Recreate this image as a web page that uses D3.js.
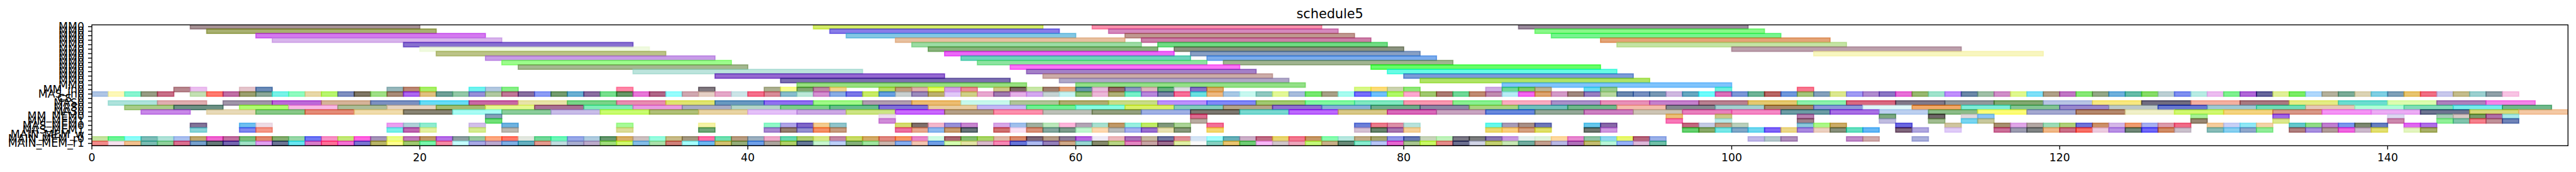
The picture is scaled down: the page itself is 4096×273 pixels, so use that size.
<!DOCTYPE html>
<html><head><meta charset="utf-8">
<script src="https://d3js.org/d3.v7.min.js"></script>
<style>html,body{margin:0;padding:0;background:#fff;overflow:hidden}svg{display:block}text{font-family:"DejaVu Sans";fill:#000}</style>
</head><body><div id="c"></div>
<script>
const chartTitle="schedule5";
const rowLabels=["MM0","MM0","MM0","MM0","MM0","MM0","MM0","MM0","MM0","MM0","MM0","MM0","MM0","MM0","MM_in0","MAS_in0","CS_0","MAS0","MAS0","MAS0","MM_MEM0","MM_MEM1","MAS_MEM0","MAS_MEM1","MAIN_MEM_w","MAIN_MEM_r0","MAIN_MEM_r1"];
const xTicks=[0,20,40,60,80,100,120,140];
const xMax=151;
// every task is [start, displayed colour]; duration is by row
const durLong=14, durMid=3, durUnit=1;
const r0=[[6,"#a69295"],[44,"#d3ec68"],[61,"#fa90ac"],[87,"#9a8a9c"]];
const r1=[[7,"#a8b070"],[45,"#887ce8"],[62,"#d488bc"],[88,"#88f888"]];
const r2=[[10,"#d478f0"],[46,"#84c8e4"],[63,"#c09890"],[89,"#78f490"]];
const r3=[[11,"#d8b4ec"],[49,"#e8c0a0"],[64,"#cc80a8"],[92,"#e4a478"]];
const r4=[[19,"#8870d0"],[50,"#9cdca4"],[65,"#70dc84"],[93,"#c4e4a4"]];
const r5=[[20,"#f0fae0"],[51,"#88b47c"],[66,"#8c9480"],[100,"#bca0ac"]];
const r6=[[21,"#bcc488"],[52,"#ec68f8"],[67,"#88a0c4"],[105,"#f8f6c0"]];
const r7=[[24,"#c89ce8"],[53,"#6cd4bc"],[68,"#7cacec"]];
const r8=[[25,"#9cfc8c"],[54,"#8ce4a0"],[69,"#a0b490"]];
const r9=[[26,"#a4b890"],[56,"#fc74f8"],[78,"#68fc68"]];
const r10=[[33,"#bce4dc"],[57,"#a480c8"],[79,"#68fce4"]];
const r11=[[38,"#9468d0"],[58,"#ccaca8"],[80,"#7c9cd8"]];
const r12=[[42,"#7c70b0"],[59,"#b0a8c8"],[81,"#b0e464"]];
const r13=[[43,"#98e080"],[60,"#94e088"],[86,"#80c4fc"]];
const r14=[[5,"#b8888f"],[6,"#ecc0f0"],[9,"#e5c5cc"],[10,"#6c8cb8"],[18,"#98b8bc"],[19,"#bc8874"],[20,"#a8f068"],[23,"#70f3f0"],[24,"#b3c8e0"],[25,"#88f088"],[32,"#ff88a8"],[37,"#80787f"],[41,"#acb090"],[42,"#f8fd90"],[43,"#80a870"],[44,"#c088a8"],[45,"#f3d58c"],[48,"#b8dc68"],[49,"#c09c80"],[50,"#e0b0b0"],[51,"#e8fc68"],[52,"#d8a0e8"],[53,"#ec8c98"],[55,"#d0c888"],[56,"#806868"],[57,"#c8e8a8"],[58,"#a08070"],[59,"#e8a880"],[60,"#6098a8"],[61,"#e8bcdc"],[62,"#986c6c"],[63,"#9098c4"],[64,"#e0b8c0"],[65,"#68b080"],[66,"#e0dce5"],[67,"#8870c8"],[68,"#dcac6c"],[77,"#d8f888"],[78,"#fcdc78"],[79,"#ccd4b0"],[80,"#90e878"],[85,"#d0ace4"],[86,"#70d898"],[87,"#80cc68"],[88,"#c0b494"],[91,"#70dcf0"],[92,"#98cc90"],[99,"#70f0dc"],[104,"#f87890"]];
const r15=[[0,"#aec5e5"],[1,"#fdf8b8"],[2,"#88f5d0"],[3,"#989c84"],[4,"#c87088"],[6,"#c3e0b3"],[7,"#ff7c70"],[8,"#c070a5"],[9,"#9ca070"],[10,"#8ca898"],[11,"#78f3e8"],[12,"#90fbc0"],[13,"#e8d8a8"],[14,"#b8f570"],[15,"#8090c0"],[16,"#807860"],[17,"#a0e088"],[18,"#a88c78"],[19,"#ac68f0"],[20,"#e0c080"],[21,"#70a098"],[22,"#94c8a8"],[23,"#9690d8"],[24,"#b0c8a0"],[25,"#c07898"],[26,"#8870a0"],[27,"#8c9cf5"],[28,"#749c70"],[29,"#6cb0d3"],[30,"#8c70a0"],[31,"#78e090"],[32,"#689868"],[33,"#e878d8"],[34,"#b06888"],[35,"#98fdfd"],[36,"#d0a8b0"],[37,"#e5d0c5"],[38,"#e5a8c8"],[39,"#cce5e8"],[40,"#f5708c"],[41,"#d88c98"],[42,"#88bccc"],[43,"#bce8d8"],[44,"#d490d0"],[45,"#8aace5"],[46,"#7c78e8"],[47,"#c8ec60"],[48,"#68a0e0"],[49,"#c8d0d0"],[50,"#9c8cbc"],[51,"#bcb070"],[52,"#e0c8f8"],[53,"#d0d088"],[54,"#e8a8d0"],[55,"#a07cb0"],[56,"#e5b0e8"],[57,"#d4a8f0"],[58,"#c5d3d3"],[59,"#c5f3f3"],[60,"#90c078"],[61,"#ecb8d8"],[62,"#b0b078"],[63,"#78f0c8"],[64,"#b888dc"],[65,"#7c88a8"],[66,"#f87098"],[67,"#6ce0e0"],[68,"#ecb880"],[69,"#a8c8e5"],[70,"#c8f8f0"],[71,"#90c8c0"],[72,"#e3f898"],[73,"#a8bcdc"],[74,"#78e870"],[75,"#a8a088"],[76,"#a8fcf0"],[77,"#7870fc"],[78,"#70c0fc"],[79,"#b0f868"],[80,"#fca8d0"],[81,"#a0c870"],[82,"#ac7c74"],[83,"#70d898"],[84,"#c08c74"],[85,"#c08cb0"],[86,"#b8ecf5"],[87,"#f460f0"],[88,"#dca470"],[89,"#d49cc8"],[90,"#a08880"],[91,"#9880c0"],[92,"#b8d8a0"],[93,"#6c88b0"],[94,"#7890c0"],[95,"#7898b4"],[96,"#d0b8e0"],[97,"#68a8c0"],[98,"#70fcfc"],[99,"#dc70b8"],[100,"#7c98d8"],[101,"#70b498"],[102,"#b86864"],[103,"#7098dc"],[104,"#a4c47c"],[105,"#84a0bc"],[106,"#dce890"],[107,"#a09cf4"],[108,"#b08cd0"],[109,"#8c78c4"],[110,"#e870d8"],[111,"#98b870"],[112,"#a0e4cc"],[113,"#c090fc"],[114,"#6c88a8"],[115,"#a0c0a8"],[116,"#d090c8"],[117,"#e0f890"],[118,"#80e0f8"],[119,"#b0a088"],[120,"#c078c4"],[121,"#88e878"],[122,"#94a888"],[123,"#70b0dc"],[124,"#68bca8"],[125,"#88dc68"],[126,"#bcd0d4"],[127,"#8090f0"],[128,"#b8ece4"],[129,"#ecbcf0"],[130,"#80f090"],[131,"#b068d8"],[132,"#68689c"],[133,"#e0f098"],[134,"#7cec68"],[135,"#b0d8fc"],[136,"#b4b09c"],[137,"#7cac98"],[138,"#dcd4b4"],[139,"#80d0e4"],[140,"#80a0b8"],[141,"#e8c470"],[142,"#f07084"],[143,"#c8c8ec"],[144,"#c4bc8c"],[145,"#9cd0d0"],[146,"#90a0a8"],[147,"#f8c4e4"]];
const r16=[];
const r17=[[1,"#aee3dc"],[4,"#dfadb0"],[8,"#a095a8"],[11,"#bc68d8"],[14,"#d5b398"],[17,"#7c90c0"],[20,"#68dcf5"],[23,"#c868a5"],[26,"#e8e3a8"],[29,"#78d488"],[32,"#e88cb0"],[35,"#e0e470"],[38,"#6898c0"],[41,"#9070f0"],[44,"#a0f888"],[47,"#b09cb0"],[50,"#ecbc70"],[53,"#c8f8ec"],[56,"#b0c498"],[59,"#b0ac70"],[62,"#c8dc88"],[65,"#bc90fc"],[68,"#8088f8"],[71,"#a0c870"],[74,"#80f8a0"],[77,"#80e8c0"],[80,"#f898b0"],[83,"#88f090"],[86,"#f8acc0"],[89,"#a890c8"],[92,"#e890b8"],[95,"#c480cc"],[98,"#b88090"],[101,"#e4c870"],[104,"#8cf0ac"],[107,"#d86880"],[110,"#807888"],[113,"#90989c"],[116,"#80a870"],[119,"#b8c4e4"],[122,"#f8e880"],[125,"#706c80"],[128,"#f4b0a0"],[131,"#a87880"],[134,"#e4ec84"],[137,"#6cdcd0"],[140,"#dcfcb0"],[143,"#ac80bc"],[146,"#f484e8"]];
const r18=[[2,"#a8cc88"],[5,"#6c9084"],[9,"#b0fc70"],[12,"#f8b8e4"],[15,"#acbc98"],[18,"#e5d3c0"],[21,"#a4bc70"],[24,"#e5f890"],[27,"#a87094"],[30,"#80ecb8"],[33,"#e89ce0"],[36,"#a8acc4"],[39,"#b4d4c8"],[42,"#7cd088"],[45,"#68bc8c"],[48,"#8070d8"],[51,"#e8cca0"],[54,"#c4b8f4"],[57,"#70f094"],[60,"#88fce4"],[63,"#d8f060"],[66,"#84ccbc"],[69,"#b4a488"],[72,"#9070d0"],[75,"#88b0d4"],[78,"#70ac8c"],[81,"#8c88a4"],[84,"#a8d480"],[87,"#70c0bc"],[90,"#70b88c"],[93,"#f4bcac"],[96,"#848890"],[99,"#a4d0d0"],[102,"#a88868"],[105,"#8c98d8"],[108,"#e0f8f8"],[111,"#f0a868"],[114,"#80ecd8"],[117,"#84c494"],[120,"#9888cc"],[123,"#bcc8c8"],[126,"#6878d0"],[129,"#a0c8d4"],[132,"#70dcb8"],[135,"#e4c8b8"],[138,"#b0fcd8"],[141,"#80dcb8"],[144,"#78ecec"],[147,"#70b88c"]];
const r19=[[3,"#c888e8"],[7,"#e8dab8"],[10,"#88c888"],[13,"#e48c78"],[16,"#f0dcac"],[19,"#888474"],[22,"#a8fcf4"],[25,"#8ccc9c"],[28,"#c8bce8"],[31,"#c8fc70"],[34,"#b0c078"],[37,"#e8d4a4"],[40,"#e4c0f8"],[43,"#cca8e4"],[46,"#cce484"],[49,"#c868fc"],[52,"#b4a088"],[55,"#fc90ac"],[58,"#bcc0b8"],[61,"#94a080"],[64,"#a0b0e4"],[67,"#7c7870"],[70,"#78d8d0"],[73,"#bc68fc"],[76,"#d8c888"],[79,"#d868b8"],[82,"#c8a4c0"],[85,"#6888dc"],[88,"#94a898"],[91,"#cc80c0"],[94,"#ccc4b4"],[97,"#e880bc"],[100,"#f488c4"],[103,"#6c9ca4"],[106,"#a870e4"],[109,"#bcd0f0"],[112,"#8cbc88"],[115,"#fcfc78"],[118,"#a4a8d0"],[121,"#b4886c"],[124,"#f0f0c8"],[127,"#d0f870"],[130,"#f4d480"],[133,"#d89888"],[136,"#f494f4"],[139,"#ecacf4"],[142,"#6c7490"],[145,"#d8d878"],[148,"#f4c8a4"]];
const r20=[[24,"#88a0b8"],[48,"#eedcf0"],[67,"#dd6b8f"],[96,"#ecc078"],[99,"#ccc888"],[104,"#b880b0"],[109,"#7ca880"],[112,"#706068"],[114,"#e0d8dc"],[115,"#88c5f8"],[128,"#a8f098"],[133,"#a068e8"],[140,"#dcd8f0"],[143,"#a8ccb8"],[144,"#d8c8c4"],[145,"#789c68"],[146,"#b070a8"],[147,"#a8e8ec"]];
const r21=[[24,"#70e078"],[48,"#d08cd8"],[67,"#b8aaa0"],[96,"#f878b8"],[99,"#b8e8e8"],[104,"#a0808c"],[109,"#c0bce0"],[112,"#a0bc90"],[114,"#78d5f0"],[115,"#c8c89c"],[128,"#988874"],[133,"#dce88c"],[140,"#cc88ac"],[143,"#90f098"],[144,"#80c4ac"],[145,"#f5808c"],[146,"#c09098"],[147,"#7084b8"]];
const r22=[[6,"#837498"],[9,"#70c0f0"],[10,"#eedce5"],[18,"#eca0f0"],[19,"#b0d0d8"],[20,"#90ecd0"],[23,"#d3c0ea"],[25,"#70b3e0"],[32,"#a8fa98"],[37,"#f5f3a8"],[41,"#90f8c8"],[42,"#b0a5e8"],[43,"#8068c8"],[44,"#f3cc90"],[45,"#90c5cc"],[49,"#d5dc70"],[50,"#80706c"],[51,"#f3b8cc"],[52,"#9890d8"],[53,"#c888d0"],[55,"#d8a8e8"],[56,"#a0c0ec"],[57,"#a0b0a0"],[58,"#bce8bc"],[59,"#fdb8dc"],[60,"#b3a5b5"],[61,"#a8e0d0"],[62,"#c09868"],[63,"#98f0e0"],[64,"#c0ec68"],[65,"#80987c"],[66,"#acd498"],[68,"#f37098"],[77,"#6c80d8"],[78,"#ec7c8c"],[79,"#dd90a8"],[80,"#b8e3dc"],[85,"#68f8ec"],[86,"#a89cb8"],[87,"#a89088"],[88,"#7078b8"],[91,"#68c8ec"],[92,"#8868a8"],[97,"#c46880"],[98,"#c5cce5"],[99,"#c4a088"],[100,"#bad0bc"],[104,"#8cc8dc"],[105,"#acf888"],[106,"#ccac68"],[110,"#6c68e0"],[113,"#d0c5a0"],[116,"#a89070"],[117,"#e0a8e8"],[118,"#b4a8a4"],[119,"#9cdcb8"],[120,"#b0d07c"],[121,"#7074d8"],[122,"#cc9068"],[123,"#d5b8e8"],[124,"#f09c70"],[125,"#a8b0f0"],[126,"#dc9cac"],[127,"#f06c88"],[129,"#f5cc9c"],[130,"#c8d0f5"],[131,"#90e8f5"],[132,"#f3d3a8"],[134,"#60c8cc"],[135,"#90dc88"],[136,"#c080d0"],[137,"#7c98ec"],[138,"#7c8870"],[139,"#6880c0"],[141,"#e068f0"],[142,"#b070e8"]];
const r23=[[6,"#88d4d8"],[9,"#8088f0"],[10,"#f59888"],[18,"#78f0e8"],[19,"#c060b0"],[20,"#e5f0a0"],[23,"#d5ec90"],[25,"#bdb8b0"],[32,"#dcdc98"],[37,"#70a878"],[41,"#a888d0"],[42,"#968070"],[43,"#9590d0"],[44,"#f59060"],[45,"#c89c80"],[49,"#ec70a0"],[50,"#e8a890"],[51,"#8cb8ee"],[52,"#c89c70"],[53,"#667478"],[55,"#d07070"],[56,"#fbe0f3"],[57,"#d89078"],[58,"#85a8a0"],[59,"#7c9c8c"],[60,"#c0f8d0"],[61,"#fdd8b0"],[62,"#b8bcbc"],[63,"#a5b0f0"],[64,"#9870d0"],[65,"#e8e0b0"],[66,"#88987c"],[68,"#f3d870"],[77,"#d5c0d3"],[78,"#68856c"],[79,"#a878b0"],[80,"#f5d098"],[85,"#ecd870"],[86,"#fad080"],[87,"#d5a080"],[88,"#e0e068"],[91,"#707870"],[92,"#d098e0"],[97,"#60d070"],[98,"#88a868"],[99,"#78e8e8"],[100,"#80a8c8"],[101,"#70d8f0"],[102,"#8060f8"],[103,"#ecd888"],[104,"#a888e0"],[105,"#ecd0c0"],[106,"#88907c"],[107,"#60e0c0"],[108,"#60b8f5"],[110,"#80607c"],[111,"#b0a8e0"],[113,"#e0ccf8"],[116,"#cc7098"],[117,"#9c9cb0"],[118,"#808484"],[119,"#f0b888"],[120,"#cc7088"],[121,"#f87060"],[122,"#eccce0"],[123,"#b890e5"],[124,"#708878"],[125,"#7068f8"],[126,"#d08c60"],[127,"#cac0cc"],[129,"#88bcb8"],[130,"#88d0f0"],[131,"#90a8cc"],[132,"#90ec98"],[134,"#b08080"],[135,"#a890e0"],[136,"#b09c98"],[137,"#f060e0"],[138,"#ccb8cc"],[139,"#e3e070"],[141,"#e3f5c0"],[142,"#a8b068"]];
const r24=[];
const r25=[[0,"#c5e5a0"],[1,"#6cf595"],[2,"#8dfdf8"],[3,"#7dbdb8"],[4,"#b0e3d8"],[5,"#abc0f0"],[6,"#c0a870"],[7,"#f060d0"],[8,"#c070a0"],[9,"#7abd7a"],[10,"#e08870"],[11,"#85ad70"],[12,"#98d8a8"],[13,"#7078f5"],[14,"#f892c5"],[15,"#c3e878"],[16,"#ff60e0"],[17,"#a595b8"],[18,"#ebfd88"],[19,"#c078b8"],[20,"#c09a68"],[21,"#b870e8"],[22,"#8c9ea0"],[23,"#98c8a0"],[24,"#fda880"],[25,"#ff7868"],[26,"#e3e8e0"],[27,"#70d898"],[28,"#6cf8b8"],[29,"#98a8e8"],[30,"#b0cce0"],[31,"#62986e"],[32,"#d8b068"],[33,"#ccc0c0"],[34,"#98fde0"],[35,"#c8bb88"],[36,"#a39880"],[37,"#ff70a8"],[38,"#70e0b0"],[39,"#b89c80"],[40,"#9cb0c0"],[41,"#eeaac8"],[42,"#68d8b0"],[43,"#b0cc70"],[44,"#d8e888"],[45,"#c488a5"],[46,"#c8dc65"],[47,"#d3ab68"],[48,"#e08880"],[49,"#f59860"],[50,"#e888c8"],[51,"#d0fde5"],[52,"#a86070"],[53,"#85bb70"],[54,"#a8d565"],[55,"#dfb8a8"],[56,"#d8886c"],[57,"#7c6078"],[58,"#b59c88"],[59,"#8c7c98"],[60,"#b868e0"],[61,"#eeeaf5"],[62,"#ecb8bc"],[63,"#a870b8"],[64,"#c5b8a0"],[65,"#7075a0"],[66,"#e09098"],[67,"#d5e5f5"],[68,"#a5fdfd"],[69,"#68b0b8"],[70,"#ccb0c8"],[71,"#c06c85"],[72,"#e8d570"],[73,"#f3788f"],[74,"#c69860"],[75,"#88fdb0"],[76,"#b8e8e0"],[77,"#c0ac88"],[78,"#a5a570"],[79,"#9398e8"],[80,"#6578b0"],[81,"#c8d5ba"],[82,"#c0f3bb"],[83,"#7a7885"],[84,"#7a7c7c"],[85,"#8878b0"],[86,"#c898e0"],[87,"#e5f0ec"],[88,"#e0f3dc"],[89,"#fdd8a0"],[90,"#e888d0"],[91,"#90c3a5"],[92,"#90d8f0"],[93,"#e8f870"],[94,"#b5607c"],[95,"#9ab0e8"],[101,"#c0b8e8"],[102,"#b5c8cc"],[103,"#b090bc"],[107,"#c08cc8"],[108,"#d0acac"],[111,"#aab0dc"]];
const r26=[[0,"#f28b8b"],[1,"#f7e0ee"],[2,"#f3c08e"],[3,"#7bbdb3"],[4,"#8fd09b"],[5,"#db7090"],[6,"#76a0cc"],[7,"#667a78"],[8,"#7565b0"],[9,"#a0e0c5"],[10,"#e0a0f0"],[11,"#6c7595"],[12,"#68e5f0"],[13,"#d87cc8"],[14,"#ff6f98"],[15,"#f570d5"],[16,"#7a75d0"],[17,"#b8b568"],[18,"#fdfd8f"],[19,"#a0c870"],[20,"#78f5ac"],[21,"#f58aa5"],[22,"#c5fdfd"],[23,"#a8a8e5"],[24,"#baa8cf"],[25,"#7fb0e5"],[26,"#65b0c0"],[27,"#e59a8f"],[28,"#c0dce0"],[29,"#a8add0"],[30,"#bcabca"],[31,"#a0dc7c"],[32,"#d0f870"],[33,"#85bde8"],[34,"#aae0aa"],[35,"#d0807a"],[36,"#a5fdfd"],[37,"#6db8f0"],[38,"#d3c070"],[39,"#95ad7a"],[40,"#6f9fe8"],[41,"#aca59d"],[42,"#b0d068"],[43,"#647898"],[44,"#c8f5d0"],[45,"#bdd0f8"],[46,"#85b07a"],[47,"#a0e5a0"],[48,"#cbb5ac"],[49,"#85aef0"],[50,"#f3c5b0"],[51,"#709ee5"],[52,"#d3fdb0"],[53,"#e3e3a5"],[54,"#d8b8cb"],[55,"#f788b5"],[56,"#6575d8"],[57,"#adbaf0"],[58,"#9480ba"],[59,"#cfa988"],[60,"#97d7d0"],[61,"#868a6c"],[62,"#b8d585"],[63,"#e285c0"],[64,"#c7a5a5"],[65,"#9c6e90"],[66,"#dff0a5"],[67,"#fafafa"],[68,"#85d0c0"],[69,"#eac570"],[70,"#70cc75"],[71,"#f7b8f7"],[72,"#d0c5ca"],[73,"#eda5bb"],[74,"#c3f87a"],[75,"#c8b088"],[76,"#6a8a78"],[77,"#88edd0"],[78,"#b8c5f8"],[79,"#e565cf"],[80,"#a8c590"],[81,"#c8f860"],[82,"#e58b8b"],[83,"#6c7090"],[84,"#d0d3e5"],[85,"#c3d070"],[86,"#c8e8b5"],[87,"#73ada0"],[88,"#c39f8f"],[89,"#b8b8e5"],[90,"#b070b8"],[91,"#c3bc70"],[92,"#b8f5d8"],[93,"#95b0fa"],[94,"#dcb8d8"],[95,"#70c0a8"]];
const rowTasks=[r0,r1,r2,r3,r4,r5,r6,r7,r8,r9,r10,r11,r12,r13,r14,r15,r16,r17,r18,r19,r20,r21,r22,r23,r24,r25,r26];
const rowDur=i=>i<14?durLong:(i>=17&&i<=19?durMid:durUnit);

const W=4096,H=273,k=W/6570,alpha=0.6;
const axL=234.3*k,axR=6549.6*k,axT=63.3*k,axB=371*k;
const lwSpine=2.2*k,lwBar=2.78*k,tickLen=9.7*k,tickPad=9.7*k,fs=27.8*k,titleFs=33.3*k;
const x=d3.scaleLinear().domain([0,xMax]).range([axL,axR]);
const y=d3.scaleLinear().domain([-0.41,26.52]).range([axT,axB]);
// colours above are read as they appear on white; recover the translucent base colour
const base=c=>{const o=d3.rgb(c),f=v=>Math.max(0,Math.min(255,(v-255*(1-alpha))/alpha));return d3.rgb(f(o.r),f(o.g),f(o.b)).formatHex();};

const svg=d3.select("#c").append("svg").attr("width",W).attr("height",H).attr("viewBox",`0 0 ${W} ${H}`);
svg.append("defs").append("clipPath").attr("id","ax").append("rect").attr("x",axL).attr("y",axT).attr("width",axR-axL).attr("height",axB-axT);
const plot=svg.append("g").attr("clip-path","url(#ax)");
rowTasks.forEach((tasks,i)=>{
  plot.append("g").selectAll("rect").data(tasks).join("rect")
    .attr("x",d=>x(d[0])).attr("width",d=>x(d[0]+rowDur(i))-x(d[0]))
    .attr("y",y(i-0.5)).attr("height",y(i+0.5)-y(i-0.5))
    .attr("fill",d=>base(d[1])).attr("fill-opacity",alpha)
    .attr("stroke",d=>base(d[1])).attr("stroke-opacity",alpha).attr("stroke-width",lwBar);
});
const xAxis=d3.axisBottom(x).tickValues(xTicks).tickFormat(d3.format("d")).tickSize(tickLen).tickPadding(tickPad).offset(0);
const yAxis=d3.axisLeft(y).tickValues(d3.range(rowLabels.length)).tickFormat(i=>rowLabels[i]).tickSize(tickLen).tickPadding(tickPad).offset(0);
const gx=svg.append("g").attr("transform",`translate(0,${axB})`).call(xAxis);
const gy=svg.append("g").attr("transform",`translate(${axL},0)`).call(yAxis);
[gx,gy].forEach(g=>{g.select(".domain").remove();g.selectAll("line").attr("stroke","#000").attr("stroke-width",lwSpine);g.selectAll("text").attr("font-family","DejaVu Sans").attr("font-size",fs).attr("fill","#000");});
svg.append("rect").attr("x",axL).attr("y",axT).attr("width",axR-axL).attr("height",axB-axT).attr("fill","none").attr("stroke","#000").attr("stroke-width",lwSpine);
svg.append("text").attr("x",(axL+axR)/2).attr("y",46*k).attr("text-anchor","middle").attr("font-family","DejaVu Sans").attr("font-size",titleFs).text(chartTitle);
</script></body></html>
